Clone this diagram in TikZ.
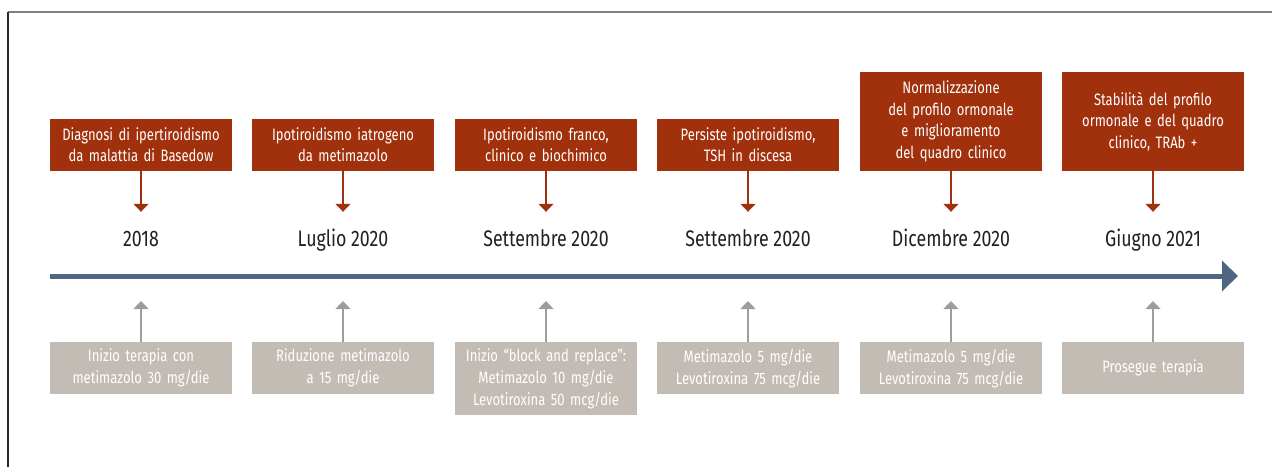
\documentclass[tikz,border=0pt]{standalone}
\usepackage{fontspec}
\setmainfont{Fira Sans}[FakeStretch=0.79]
\usetikzlibrary{arrows.meta,positioning}
\definecolor{evtred}{RGB}{161,48,12}
\definecolor{therapygray}{RGB}{194,188,181}
\definecolor{upgray}{RGB}{160,156,156}
\definecolor{axisblue}{RGB}{79,101,129}
\definecolor{datetext}{RGB}{35,31,32}
\definecolor{framegray}{RGB}{128,128,128}
\definecolor{framedark}{RGB}{40,40,40}

\begin{document}
\begin{tikzpicture}[x=1pt,y=-1pt]
    \tikzstyle{event}=[fill=evtred, text=white, text width=174pt, minimum width=182pt,
        minimum height=52pt, align=center, inner xsep=4pt, inner ysep=5pt, anchor=south,
        font=\fontsize{16.5}{21.5}\selectfont]
    \tikzstyle{therapy}=[fill=therapygray, text=white, text width=174pt, minimum width=182pt,
        minimum height=52pt, align=center, inner xsep=4pt, inner ysep=6pt, anchor=north,
        font=\fontsize{16.5}{22}\selectfont]
    \tikzstyle{date}=[text=datetext, inner sep=0pt, text height=16pt, text depth=4pt,
        font=\fontsize{22.5}{26}\selectfont]
    \tikzstyle{down}=[draw=evtred, line width=1.3pt, shorten >=18pt,
        -{Triangle[width=15pt,length=8pt]}]
    \tikzstyle{up}=[draw=upgray, line width=1.5pt, shorten >=25pt,
        -{Triangle[width=15pt,length=8pt]}]
    \useasboundingbox (0,0) rectangle (1272,467);
    \draw[framegray, line width=1.5pt] (8,12) -- (1272,12);
    \draw[framedark, line width=1.3pt] (8,12) -- (8,467);

    % time axis
    \draw[axisblue, line width=5pt, -{Triangle[width=30pt,length=16pt]}] (50,276) -- (1238,276);
    \coordinate (m1) at (141,276);
    \coordinate (m2) at (343,276);
    \coordinate (m3) at (546,276);
    \coordinate (m4) at (748,276);
    \coordinate (m5) at (951,276);
    \coordinate (m6) at (1153,276);

    % events above the axis
    \node[event] (e1) at (141,171) {Diagnosi di ipertiroidismo\\da malattia di Basedow};
    \node[event] (e2) at (343,171) {Ipotiroidismo iatrogeno\\da metimazolo};
    \node[event] (e3) at (546,171) {Ipotiroidismo franco,\\clinico e biochimico};
    \node[event] (e4) at (748,171) {Persiste ipotiroidismo,\\TSH in discesa};
    \node[event, minimum height=99pt] (e5) at (951,171) {Normalizzazione\\del profilo ormonale\\e miglioramento\\del quadro clinico};
    \node[event, minimum height=99pt] (e6) at (1153,171) {Stabilità del profilo\\ormonale e del quadro\\clinico, TRAb +};

    \node[date] (d1) at (141,240) {2018};
    \node[date] (d2) at (343,240) {Luglio 2020};
    \node[date] (d3) at (546,240) {Settembre 2020};
    \node[date] (d4) at (748,240) {Settembre 2020};
    \node[date] (d5) at (951,240) {Dicembre 2020};
    \node[date] (d6) at (1153,240) {Giugno 2021};

    \draw[down] (e1) -- (d1);
    \draw[down] (e2) -- (d2);
    \draw[down] (e3) -- (d3);
    \draw[down] (e4) -- (d4);
    \draw[down] (e5) -- (d5);
    \draw[down] (e6) -- (d6);

    % therapy below the axis
    \node[therapy] (b1) at (141,342) {Inizio terapia con\\metimazolo 30 mg/die};
    \node[therapy] (b2) at (343,342) {Riduzione metimazolo\\a 15 mg/die};
    \node[therapy] (b3) at (546,342) {Inizio “block and replace”:\\Metimazolo 10 mg/die\\Levotiroxina 50 mcg/die};
    \node[therapy] (b4) at (748,342) {Metimazolo 5 mg/die\\Levotiroxina 75 mcg/die};
    \node[therapy] (b5) at (951,342) {Metimazolo 5 mg/die\\Levotiroxina 75 mcg/die};
    \node[therapy] (b6) at (1153,342) {Prosegue terapia};

    \draw[up] (b1) -- (m1);
    \draw[up] (b2) -- (m2);
    \draw[up] (b3) -- (m3);
    \draw[up] (b4) -- (m4);
    \draw[up] (b5) -- (m5);
    \draw[up] (b6) -- (m6);
\end{tikzpicture}
\end{document}
